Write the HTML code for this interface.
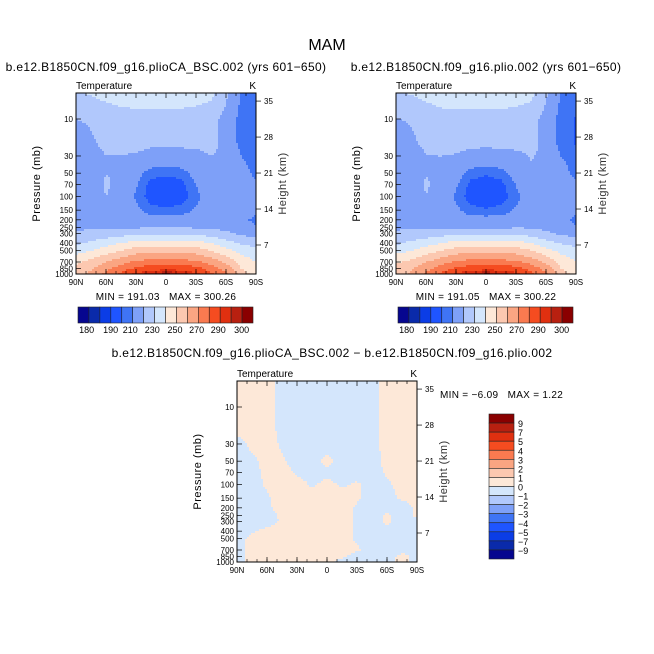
<!DOCTYPE html>
<html><head><meta charset="utf-8">
<style>
body{margin:0;background:#fff;}
svg{display:block;font-family:"Liberation Sans","DejaVu Sans",sans-serif;}
</style></head>
<body>
<svg id="root" width="654" height="654" viewBox="0 0 654 654" xmlns="http://www.w3.org/2000/svg">
<rect width="654" height="654" fill="#fff"/>
<text x="327" y="50" font-size="16" text-anchor="middle">MAM</text>
</svg>
<script>
// ---- data ----
const lats = [90,75,60,45,30,15,0,-15,-30,-45,-60,-75,-90];
const levels = [4.6,10,20,30,50,70,100,150,200,250,300,400,500,700,850,1000];
const tempA = [
[229,231,234,236,236,236,236,236,235,233,222,210,207],
[220,221,223,225,226,226,226,226,225,223,217,207,205],
[216,219,222,223,223,222,222,222,222,222,218,207,205],
[214,217,220,220,219,217,216,217,218,220,219,210,206],
[213,216,220,219,213,207,206,207,213,219,220,215,207],
[213,216,221,218,211,203,202,203,210,217,220,219,212],
[213,216,220,217,209,202,201,202,208,215,218,218,214],
[214,216,218,216,212,207,206,207,211,214,216,215,212],
[215,216,217,216,214,213,213,213,214,215,214,212,208],
[218,219,219,219,219,219,219,219,219,219,217,214,211],
[221,223,224,226,228,229,229,229,228,225,222,218,216],
[228,232,236,240,244,245,245,245,244,240,234,229,226],
[236,240,245,250,255,257,257,257,255,250,243,237,233],
[248,253,260,266,272,274,274,274,272,266,258,246,240],
[253,259,267,275,282,286,287,287,284,276,266,250,243],
[255,262,272,282,292,297,301,297,292,282,272,256,245]];
const diffAB = [
[ .3, .3, .3,-.3,-.3,-.3,-.3,-.3,-.3,-.3, .3, .3, .3],
[ .3, .3, .3,-.3,-.3,-.3,-.3,-.3,-.3,-.3, .3, .3, .3],
[ .2, .3, .3,-.2,-.3,-.3,-.3,-.3,-.3,-.3, .3, .3, .3],
[-.3, .2, .3,-.1,-.3,-.3,-.3,-.3,-.3,-.3, .3, .3, .3],
[-.3,-.2, .3, .1,-.3,-.2, .2,-.2,-.3,-.3, .2, .3, .3],
[-.3,-.3, .2, .3,-.1,-.3,-.2,-.3,-.3,-.3, .1, .3, .3],
[-.3,-.3, .1, .3, .3,-.1, .2,-.1, .1,-.3,-.1, .2, .3],
[-.3,-.3,-.1, .3, .3, .3, .3, .3, .1,-.3,-.2, .1, .2],
[-.3,-.3,-.1, .2, .3, .3, .3, .3,-.1,-.3,-.3,-.3, .1],
[-.3,-.3,-.2, .1, .3, .3, .3, .3,-.1,-.3, .1,-.3, .1],
[-.3,-.3,-.3, .1, .3, .3, .3, .3,-.1,-.3, .1,-.3,-.1],
[-.3,-.1, .2, .2, .3, .3, .3, .3,-.1,-.3,-.1,-.3,-.3],
[-.3, .2, .3, .3, .3, .3, .3, .3,-.1,-.3,-.3,-.3,-.3],
[-.3, .3, .3, .3, .3, .3, .3, .3, .1,-.3,-.3,-.2,-.2],
[-.3, .3, .3, .3, .3, .3, .3, .1,-.3,-.3,-.3, .2,-.2],
[-.3, .3, .3, .3, .3, .3, .2,-.2,-.3,-.3,-.3, .2,-.3]];
const tempLevels = [185,190,200,205,210,220,230,240,250,260,270,280,290,295,300];
const diffLevels = [-9,-7,-5,-4,-3,-2,-1,0,1,2,3,4,5,7,9];
const palette = ["#06068f","#0a2aaa","#0b3de6","#1f55ff","#3f74f5","#7ea0f8","#b1c8fc","#d4e6fc","#fde8d8","#fcc8b0","#faa582","#fa7a50","#f54c20","#e03010","#b82010","#8a0000"];
const tempBarLabels = ["180","190","210","230","250","270","290","300"];
const diffBarLabels = ["9","7","5","4","3","2","1","0","\u22121","\u22122","\u22123","\u22124","\u22125","\u22127","\u22129"];
const pTicks = [10,30,50,70,100,150,200,250,300,400,500,700,850,1000];
const hTicks = [35,28,21,14,7];
const latTickLabels = ["90N","60N","30N","0","30S","60S","90S"];
const statsA = ["191.03","300.26"], statsB = ["191.05","300.22"], statsD = ["\u22126.09","1.22"];

const NS="http://www.w3.org/2000/svg";
const root=document.getElementById('root');
function mk(tag,attrs,parent){const e=document.createElementNS(NS,tag);for(const k in attrs)e.setAttribute(k,attrs[k]);(parent||root).appendChild(e);return e;}
function txt(x,y,s,size,anchor,parent,extra){const t=mk('text',Object.assign({x:x,y:y,'font-size':size,'text-anchor':anchor||'middle'},extra||{}),parent);t.textContent=s;return t;}

const latIdx=lat=>(90-lat)/15;
const logLev=levels.map(p=>Math.log10(p));
function interp(grid,lat,p){
  const fi=Math.max(0,Math.min(lats.length-1,latIdx(lat)));
  const lp=Math.log10(p);
  let j=0; while(j<levels.length-2 && lp>logLev[j+1]) j++;
  let fj=(lp-logLev[j])/(logLev[j+1]-logLev[j]); fj=Math.max(0,Math.min(1,fj));
  const i0=Math.min(Math.floor(fi),lats.length-2), fx=fi-i0;
  const a=grid[j][i0]*(1-fx)+grid[j][i0+1]*fx;
  const b=grid[j+1][i0]*(1-fx)+grid[j+1][i0+1]*fx;
  return a*(1-fj)+b*fj;
}
function colorOf(v,lv){let k=0;while(k<lv.length&&v>=lv[k])k++;return palette[k];}

function panel(ox,oy,valueFn,lv,title,name){
  const g=mk('g',{});
  
  
  const W=180,H=181;
  const xOf=lat=>ox+(90-lat)/180*W;
  const yOf=p=>oy+H-(3-Math.log10(p))*77.5;
  const pOf=y=>Math.pow(10,3-(oy+H-y)/77.5);
  const field=mk('g',{},g);
  
  
  const step=2;
  for(let y=oy;y<oy+H;y+=step){
    const p=pOf(y+step/2);
    let runStart=ox,runCol=null;
    for(let x=ox;x<=ox+W;x+=step){
      const c = x<ox+W ? colorOf(valueFn(90-(x+step/2-ox)/W*180,p),lv) : null;
      if(c!==runCol){
        if(runCol){const r=mk('rect',{x:runStart,y:y,width:x-runStart+0.5,height:Math.min(step,oy+H-y)+0.5,fill:runCol},field);
          }
        runStart=x;runCol=c;
      }
    }
  }
  mk('rect',{x:ox,y:oy,width:W,height:H,fill:'none',stroke:'#000','stroke-width':1},g);
  for(let lat=90;lat>=-90;lat-=10){mk('line',{x1:xOf(lat),x2:xOf(lat),y1:oy,y2:oy+(lat%30===0?5:3),stroke:'#000','stroke-width':0.7},g);}
  latTickLabels.forEach((s,i)=>{const x=xOf(90-i*30);mk('line',{x1:x,x2:x,y1:oy+H,y2:oy+H-5,stroke:'#000','stroke-width':0.7},g);
    const t=txt(x,oy+H+11,s,8,'middle',g);});
  for(let lat=90;lat>=-90;lat-=10){mk('line',{x1:xOf(lat),x2:xOf(lat),y1:oy+H,y2:oy+H-3,stroke:'#000','stroke-width':0.6},g);}
  pTicks.forEach(p=>{const y=yOf(p);mk('line',{x1:ox,x2:ox+5,y1:y,y2:y,stroke:'#000','stroke-width':0.7},g);
    const t=txt(ox-3,y+3,String(p),8,'end',g);});
  hTicks.forEach(h=>{const yy=oy+152-(h-7)*5.14;
    mk('line',{x1:ox+W,x2:ox+W+5,y1:yy,y2:yy,stroke:'#000','stroke-width':0.7},g);
    const t=txt(ox+W+8,yy+3,String(h),8,'start',g);});
  let t=txt(ox-36,oy+H/2,'Pressure (mb)',11,'middle',g,{transform:`rotate(-90 ${ox-36} ${oy+H/2})`,'letter-spacing':'0.5'});
  
  t=txt(ox+W+30,oy+H/2,'Height (km)',11,'middle',g,{transform:`rotate(-90 ${ox+W+30} ${oy+H/2})`,fill:'#333','letter-spacing':'0.5'});
  
  t=txt(ox,oy-4,'Temperature',10,'start',g);
  t=txt(ox+W,oy-4,'K',10,'end',g);
  if(title){t=txt(ox+W/2,oy-22,title,12,'middle',g,{'letter-spacing':'0.35'});}
  return g;
}
function hbar(x0,y0,W,H){
  const g=mk('g',{});
  const bw=W/palette.length;
  palette.forEach((c,i)=>{const r=mk('rect',{x:x0+i*bw,y:y0,width:bw,height:H,fill:c,stroke:'#222','stroke-width':0.6},g);
    });
  const pos=[86.7,110.7,130.3,152.3,175,196.7,218.3,241.7];
  tempBarLabels.forEach((s,i)=>{const t=txt(pos[i]+(x0-78),y0+26,s,9,'middle',g);});
}
function statText(cx,y,st,anchor){
  const t=txt(cx,y,`MIN = ${st[0]}   MAX = ${st[1]}`,10,anchor||'middle',root,{style:'white-space:pre','letter-spacing':'0.3'});
  
}
const fA=(lat,p)=>interp(tempA,lat,p);
const fB=(lat,p)=>interp(tempA,lat,p)-interp(diffAB,lat,p);
const fD=(lat,p)=>fA(lat,p)-fB(lat,p);
panel(76,93,fA,tempLevels,'b.e12.B1850CN.f09_g16.plioCA_BSC.002 (yrs 601\u2212650)','panel-pliocene-ca');
panel(396,93,fB,tempLevels,'b.e12.B1850CN.f09_g16.plio.002 (yrs 601\u2212650)','panel-pliocene');
statText(166,300,statsA);statText(486,300,statsB);
hbar(78,307,175,16);hbar(398,307,175,16);
panel(237,381,fD,diffLevels,null,'panel-difference');
let tt=txt(332,357,'b.e12.B1850CN.f09_g16.plioCA_BSC.002 \u2212 b.e12.B1850CN.f09_g16.plio.002',12,'middle',root,{'letter-spacing':'0.35'});

statText(440,398,statsD,'start');
(function(){
  const g=mk('g',{});
  const x0=489,y0=414,W=25,H=145,bh=H/palette.length;
  palette.slice().reverse().forEach((c,i)=>{const r=mk('rect',{x:x0,y:y0+i*bh,width:W,height:bh,fill:c,stroke:'#222','stroke-width':0.6},g);
    });
  diffBarLabels.forEach((s,i)=>{const t=txt(x0+W+4,y0+(i+1)*bh+4,s,9,'start',g);});
})();
</script>
</body></html>
